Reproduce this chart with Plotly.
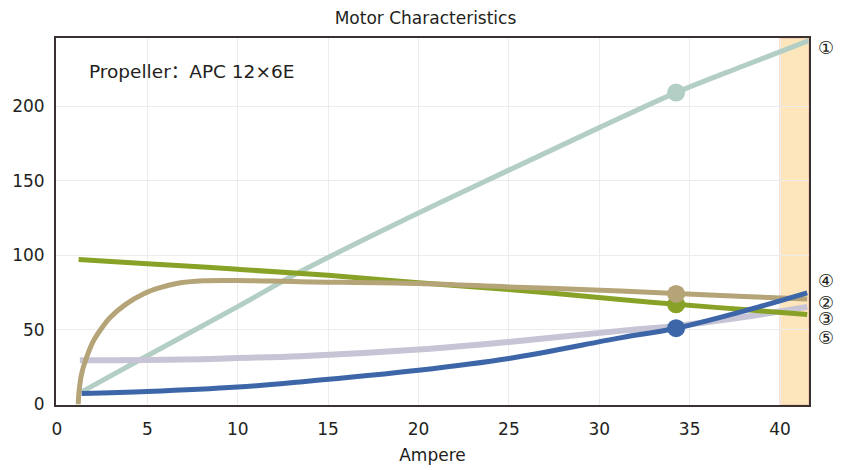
import plotly.graph_objects as go

title = "Motor Characteristics"
x_title = "Ampere"
note = "Propeller：APC 12×6E"

# series ① (teal)
x1 = [1.37, 5, 10, 13.45, 19, 25, 30, 34.25, 38, 41.58]
y1 = [8.3, 32.5, 65.5, 88.8, 122.4, 157, 185.5, 209, 227, 243.8]
# green series
x2 = [1.2, 5, 10, 15, 20, 25, 31.16, 34.25, 38, 41.5]
y2 = [97, 94.3, 90.5, 86.5, 81.5, 77, 70.2, 67, 63.5, 60.2]
# tan series
x3 = [1.18, 1.22, 1.37, 1.6, 2.0, 2.5, 2.93, 3.8, 4.78, 5.7, 6.62, 8.1, 10, 13.45, 20, 25, 31.16, 34.25, 38, 41.5]
y3 = [0, 8, 20.6, 30, 42, 51.5, 58, 67, 74, 78.2, 81, 82.8, 83, 82.2, 81, 78.7, 76.0, 74.2, 72.3, 70.5]
# lavender series
x4 = [1.27, 5, 8, 10, 13.45, 20, 25, 31.16, 34.25, 38, 41.5]
y4 = [29.5, 29.6, 30.2, 31, 32.2, 36.7, 41.8, 49.2, 52.5, 58.5, 65.3]
# blue series
x5 = [1.37, 5, 10, 13.45, 20, 25, 31.16, 34.25, 38, 41.5]
y5 = [7.2, 8.5, 11.5, 15, 22.8, 30.7, 44.5, 51, 62.5, 74.7]

marker_x = 34.25
marker_y = {"teal": 209, "tan": 74, "green": 67, "blue": 51}

label_texts = ["①", "④", "②", "③", "⑤"]
label_y = [239, 83.2, 68.5, 57.7, 45]

band = [40, 41.6]

c_teal = "#b3cec5"
c_green = "#87a226"
c_tan = "#b4a477"
c_lav = "#c7c4d5"
c_blue = "#3d66a9"
txt = "#231f20"

fig = go.Figure()

def add_line(x, y, color, width):
    fig.add_trace(go.Scatter(x=x, y=y, mode="lines",
                             line=dict(color=color, width=width, shape="spline", smoothing=1.0),
                             hoverinfo="skip", showlegend=False))

add_line(x1, y1, c_teal, 5)
add_line(x4, y4, c_lav, 6)
add_line(x2, y2, c_green, 5)
add_line(x3, y3, c_tan, 5)
add_line(x5, y5, c_blue, 5)

for key, col in [("teal", c_teal), ("green", c_green), ("tan", c_tan), ("blue", c_blue)]:
    fig.add_trace(go.Scatter(x=[marker_x], y=[marker_y[key]], mode="markers",
                             marker=dict(color=col, size=18, line=dict(width=0)),
                             hoverinfo="skip", showlegend=False))

fig.add_shape(type="rect", xref="x", yref="paper", x0=band[0], x1=band[1], y0=0, y1=1,
              fillcolor="#fde6bc", line=dict(color="#f3b9a0", width=1), layer="below")

for t, yy in zip(label_texts, label_y):
    fig.add_annotation(x=1.0, xref="paper", xanchor="left", xshift=7, y=yy, yref="y",
                       text=t, showarrow=False, font=dict(size=18, color=txt), height=15)

fig.add_annotation(x=0.041, xref="paper", y=0.908, yref="paper", xanchor="left", yanchor="middle",
                   text=note, showarrow=False,
                   font=dict(size=18.5, color=txt, family="DejaVu Sans, Noto Sans CJK SC, sans-serif"))

fig.update_layout(
    width=851, height=470,
    margin=dict(l=56, r=42, t=38, b=65, autoexpand=False),
    paper_bgcolor="white", plot_bgcolor="white",
    font=dict(family="DejaVu Sans, sans-serif", color=txt, size=17),
    title=dict(text=title, x=0.5, xanchor="center", y=0.962, yanchor="middle",
               font=dict(size=17, color=txt)),
)
fig.update_xaxes(range=[-0.05, 41.6], tickvals=[0, 5, 10, 15, 20, 25, 30, 35, 40],
                 showgrid=True, gridcolor="#ececec", gridwidth=1, zeroline=False,
                 showline=True, linecolor="#3a3132", linewidth=2, mirror=True,
                 ticks="", ticklen=0, tickfont=dict(size=17), automargin=False,
                 ticklabelstandoff=8,
                 title=dict(text=x_title, font=dict(size=17), standoff=11))
fig.update_yaxes(range=[-0.5, 245.6], tickvals=[0, 50, 100, 150, 200],
                 showgrid=True, gridcolor="#ececec", gridwidth=1, zeroline=False,
                 showline=True, linecolor="#3a3132", linewidth=2, mirror=True,
                 ticks="", ticklen=0, tickfont=dict(size=17), automargin=False,
                 ticklabelstandoff=6)

fig.write_html("out.html", config={"displayModeBar": False},
               post_script="document.body.style.margin='0';document.body.style.padding='0';")
